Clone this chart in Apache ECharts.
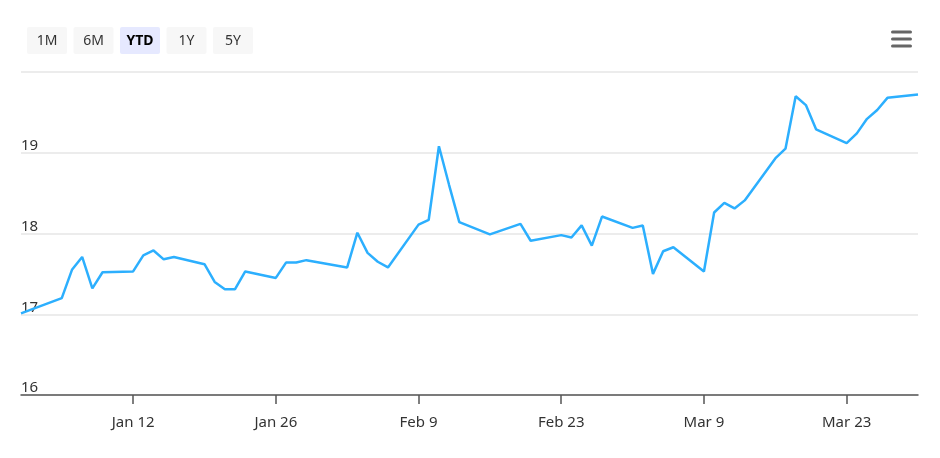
<!DOCTYPE html>
<html>
<head>
<meta charset="utf-8">
<script src="https://cdn.jsdelivr.net/npm/echarts@6/dist/echarts.min.js"></script>
<style>
  html, body { margin: 0; padding: 0; background: #fff; }
  #chart { width: 940px; height: 458px; }
</style>
</head>
<body>
<div id="chart"></div>
<script>
// daily closes, 2026 year to date
var dates = [
  '2026-01-01', '2026-01-05', '2026-01-06', '2026-01-07', '2026-01-08', '2026-01-09',
  '2026-01-12', '2026-01-13', '2026-01-14', '2026-01-15', '2026-01-16',
  '2026-01-19', '2026-01-20', '2026-01-21', '2026-01-22', '2026-01-23',
  '2026-01-26', '2026-01-27', '2026-01-28', '2026-01-29',
  '2026-02-02', '2026-02-03', '2026-02-04', '2026-02-05', '2026-02-06',
  '2026-02-09', '2026-02-10', '2026-02-11', '2026-02-12', '2026-02-13',
  '2026-02-16', '2026-02-19', '2026-02-20',
  '2026-02-23', '2026-02-24', '2026-02-25', '2026-02-26', '2026-02-27',
  '2026-03-02', '2026-03-03', '2026-03-04', '2026-03-05', '2026-03-06',
  '2026-03-09', '2026-03-10', '2026-03-11', '2026-03-12', '2026-03-13',
  '2026-03-16', '2026-03-17', '2026-03-18', '2026-03-19', '2026-03-20',
  '2026-03-23', '2026-03-24', '2026-03-25', '2026-03-26', '2026-03-27',
  '2026-03-30'
];
var prices = [
  17.01, 17.20, 17.55, 17.71, 17.32, 17.52,
  17.53, 17.73, 17.79, 17.68, 17.71,
  17.62, 17.40, 17.31, 17.31, 17.53,
  17.45, 17.64, 17.64, 17.67,
  17.58, 18.01, 17.76, 17.65, 17.58,
  18.11, 18.17, 19.08, 18.60, 18.14,
  17.99, 18.12, 17.91,
  17.98, 17.95, 18.10, 17.85, 18.21,
  18.07, 18.10, 17.50, 17.78, 17.83,
  17.53, 18.26, 18.38, 18.31, 18.41,
  18.93, 19.05, 19.70, 19.59, 19.29,
  19.12, 19.24, 19.42, 19.53, 19.68,
  19.72
];
var tickDates = ['2026-01-12', '2026-01-26', '2026-02-09', '2026-02-23', '2026-03-09', '2026-03-23'];
var rangeButtons = ['1M', '6M', 'YTD', '1Y', '5Y'];
var selectedRange = 'YTD';
var monthNames = ['Jan', 'Feb', 'Mar', 'Apr', 'May', 'Jun', 'Jul', 'Aug', 'Sep', 'Oct', 'Nov', 'Dec'];

var FONT = '"Noto Sans", "Open Sans", sans-serif';

function ts(s) {
  var p = s.split('-');
  return new Date(+p[0], p[1] - 1, +p[2]).getTime();
}

var seriesData = dates.map(function (d, i) { return [ts(d), prices[i]]; });
var tickValues = tickDates.map(ts);

// range selector buttons + menu icon
var graphics = [];
var bx = 27;
rangeButtons.forEach(function (b) {
  var sel = b === selectedRange;
  graphics.push({
    type: 'rect',
    shape: { x: bx, y: 27, width: 40, height: 27, r: 2 },
    style: { fill: sel ? '#e6e9ff' : '#f7f7f7' }
  });
  graphics.push({
    type: 'text',
    x: bx + 20, y: 41,
    style: {
      text: b, fill: sel ? '#000' : '#333', font: (sel ? 'bold ' : '') + '14px ' + FONT,
      align: 'center', verticalAlign: 'middle'
    }
  });
  bx += 46.5;
});
[30.5, 37.5, 44.5].forEach(function (y) {
  graphics.push({
    type: 'rect',
    shape: { x: 891, y: y, width: 21, height: 3, r: 1.5 },
    style: { fill: '#666' }
  });
});

var chart = echarts.init(document.getElementById('chart'));
chart.setOption({
  animation: false,
  backgroundColor: '#fff',
  textStyle: { fontFamily: FONT },
  graphic: graphics,
  grid: { left: 21, right: 22, top: 72, bottom: 63 },
  xAxis: {
    type: 'value',
    min: ts(dates[0]),
    max: ts(dates[dates.length - 1]),
    splitLine: { show: false },
    axisLine: { lineStyle: { color: '#555', width: 1.5 } },
    axisTick: { customValues: tickValues, length: 9, lineStyle: { color: '#555', width: 1.5 } },
    axisLabel: {
      customValues: tickValues,
      color: '#333', fontSize: 15, margin: 20,
      formatter: function (v) {
        var d = new Date(v);
        return monthNames[d.getMonth()] + ' ' + d.getDate();
      }
    }
  },
  yAxis: {
    type: 'value',
    min: 16, max: 20, interval: 1,
    axisLine: { show: false },
    axisTick: { show: false },
    splitLine: { lineStyle: { color: '#e6e6e6', width: 1.5 } },
    axisLabel: {
      inside: true, margin: 0, showMaxLabel: false,
      color: '#333', fontSize: 15, lineHeight: 14,
      verticalAlign: 'bottom'
    }
  },
  series: [{
    type: 'line',
    data: seriesData,
    showSymbol: false,
    lineStyle: { color: '#2caffe', width: 2.5 },
    itemStyle: { color: '#2caffe' },
    z: 5
  }]
});
</script>
</body>
</html>
